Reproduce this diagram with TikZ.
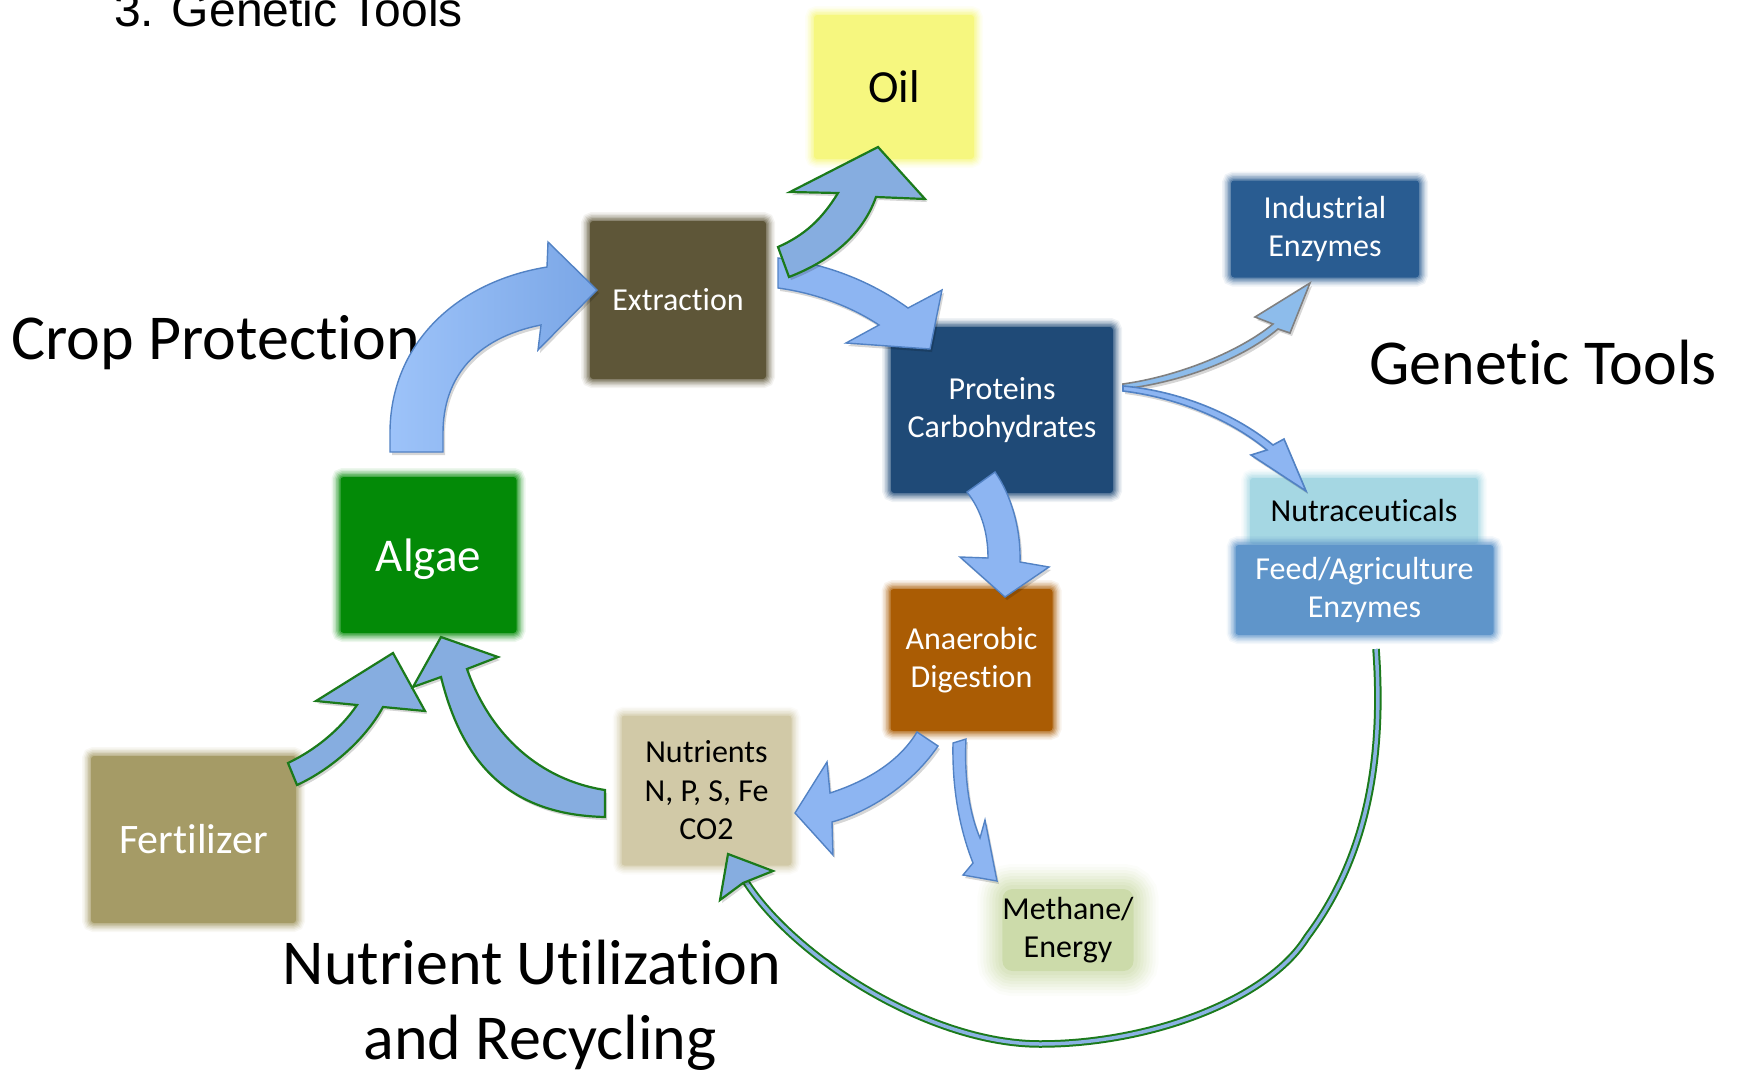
\documentclass[tikz,border=0pt]{standalone}
\usepackage{fontspec}
\setmainfont{Carlito}[Ligatures=NoCommon]
\newfontfamily\arialfont{Liberation Sans}

% box colours
\definecolor{oilc}{HTML}{F6F77F}
\definecolor{extrc}{HTML}{5E5638}
\definecolor{protc}{HTML}{1F4A77}
\definecolor{indc}{HTML}{295C91}
\definecolor{nutrac}{HTML}{A5D7E3}
\definecolor{feedc}{HTML}{5F95CA}
\definecolor{algaec}{HTML}{038A07}
\definecolor{anac}{HTML}{AA5C04}
\definecolor{nutrc}{HTML}{D1C9A7}
\definecolor{fertc}{HTML}{A59B66}
\definecolor{methc}{HTML}{CCDBAA}
% arrow colours
\definecolor{afill}{HTML}{8DB5F2}
\definecolor{afillL}{HTML}{9DC3F9}
\definecolor{afillD}{HTML}{7AA6E6}
\definecolor{aedge}{HTML}{5282C4}
\definecolor{gfill}{HTML}{86ADE0}
\definecolor{gedge}{HTML}{1B7A1B}
\definecolor{tfill}{HTML}{8DBCEB}
\definecolor{tgray}{HTML}{808080}
\definecolor{cfill}{HTML}{8AB2E3}

\tikzset{
  softbox/.style={rectangle, rounded corners=3pt, inner sep=0pt, align=center, fill=#1,
    preaction={draw=#1, line width=18pt, opacity=0.07},
    preaction={draw=#1, line width=15pt, opacity=0.10},
    preaction={draw=#1, line width=12pt, opacity=0.14},
    preaction={draw=#1, line width=9pt, opacity=0.20},
    preaction={draw=#1, line width=6pt, opacity=0.26},
    preaction={draw=#1, line width=3pt, opacity=0.35}},
  hazybox/.style={rectangle, rounded corners=10pt, inner sep=0pt, align=center, fill=#1,
    preaction={draw=#1, line width=50pt, opacity=0.06},
    preaction={draw=#1, line width=44pt, opacity=0.08},
    preaction={draw=#1, line width=38pt, opacity=0.10},
    preaction={draw=#1, line width=32pt, opacity=0.12},
    preaction={draw=#1, line width=26pt, opacity=0.14},
    preaction={draw=#1, line width=20pt, opacity=0.17},
    preaction={draw=#1, line width=14pt, opacity=0.20},
    preaction={draw=#1, line width=8pt, opacity=0.25}},
  boxtext/.style={font=\fontsize{32}{38.5}\selectfont},
  biglabel/.style={font=\fontsize{64}{76}\selectfont, inner sep=0pt},
  shadowed/.style={preaction={fill=black, opacity=0.16,
    transform canvas={shift={(2pt,-3pt)}}}},
  bluearrow/.style={shadowed, fill=afill, draw=aedge, line width=1.4pt, line join=miter},
  bigblue/.style={shadowed, left color=afillL, right color=afillD, draw=aedge,
    line width=1.4pt, line join=miter},
  greenarrow/.style={shadowed, fill=gfill, draw=gedge, line width=2.2pt, line join=miter},
  thingray/.style={shadowed, fill=tfill, draw=tgray, line width=1.6pt, line join=miter},
  thinblue/.style={shadowed, fill=afill, draw=aedge, line width=1.6pt, line join=miter},
}

\begin{document}
\begin{tikzpicture}[x=1pt, y=-1pt]
\useasboundingbox (0,0) rectangle (1741,1071);

% ---------- boxes ----------
\node[softbox=oilc, minimum width=160pt, minimum height=144pt,
      font=\fontsize{46}{55}\selectfont] (oil) at (894,87) {Oil};
\node[softbox=extrc, minimum width=176pt, minimum height=158pt, text=white, boxtext]
      (extr) at (678,300) {Extraction};
\node[softbox=protc, minimum width=222pt, minimum height=166pt, text=white, boxtext]
      (prot) at (1002,410) {Proteins\\Carbohydrates};
\node[softbox=indc, minimum width=188pt, minimum height=97pt, text=white, boxtext]
      (ind) at (1325,229) {Industrial\\Enzymes};
\node[softbox=nutrac, minimum width=228pt, minimum height=66pt, boxtext]
      (nutra) at (1364,511) {Nutraceuticals};
\node[softbox=feedc, minimum width=258pt, minimum height=90pt, text=white, boxtext]
      (feed) at (1364.5,590) {Feed/Agriculture\\Enzymes};
\node[softbox=algaec, minimum width=176pt, minimum height=156pt, text=white,
      text depth=0pt, font=\fontsize{47}{56}\selectfont] (algae) at (428.5,555) {Algae};
\node[softbox=anac, minimum width=162pt, minimum height=142pt, text=white, boxtext]
      (ana) at (971.5,660) {Anaerobic\\Digestion};
\node[softbox=nutrc, minimum width=170pt, minimum height=150pt, boxtext]
      (nutr) at (706.5,790.5) {Nutrients\\N, P, S, Fe\\CO2};
\node[softbox=fertc, minimum width=205pt, minimum height=167pt, text=white,
      font=\fontsize{42}{50}\selectfont] (fert) at (193.5,839.5) {Fertilizer};
\node[hazybox=methc, minimum width=112pt, minimum height=82pt, boxtext]
      (meth) at (1068,930) {Methane/\\Energy};

% ---------- headings ----------
\node[font=\arialfont\fontsize{48}{56}\selectfont, anchor=base west, inner sep=0pt]
      (title) at (114,26) {3. Genetic Tools};
\node[biglabel, anchor=base west] (crop) at (11,359) {Crop Protection};
\node[biglabel, anchor=base west] (gen) at (1369,384) {Genetic Tools};
\node[biglabel, anchor=base] (nu1) at (532,984) {Nutrient Utilization};
\node[biglabel, anchor=base] (nu2) at (540,1059) {and Recycling};

% ---------- block arrows ----------
% Algae -> Extraction
\path[bigblue] (390,452) -- (390,433) .. controls (390,345) and (455,282) .. (547,267)
  -- (548,242) -- (597,290) -- (538,350) -- (541,325)
  .. controls (475,338) and (443,378) .. (443,433) -- (443,452) -- cycle;

% Extraction -> Proteins/Carbohydrates
\path[bluearrow] (778,258) .. controls (830,264) and (875,284) .. (908,308)
  -- (942,290) -- (930,349) -- (846,343) -- (879,325)
  .. controls (850,306) and (815,293) .. (778,288) -- cycle;

% Extraction -> Oil
\path[greenarrow] (778,247) -- (789,277) .. controls (830,261) and (862,236) .. (876,197)
  -- (925,199) -- (878,147) -- (790,192) -- (838,193)
  .. controls (822,219) and (805,235) .. (778,247) -- cycle;

% Proteins/Carbohydrates -> Anaerobic Digestion
\path[bluearrow] (967,492) -- (995,472) .. controls (1011,495) and (1021,528) .. (1020,562)
  -- (1049,567) -- (1005,597) -- (960,557) -- (988,558)
  .. controls (988,532) and (981,510) .. (967,492) -- cycle;

% Anaerobic Digestion -> Nutrients
\path[bluearrow] (917,732) -- (938,746) .. controls (915,780) and (875,810) .. (832,822)
  -- (833,855) -- (795,813) -- (827,762) -- (830,793)
  .. controls (870,780) and (900,760) .. (917,732) -- cycle;

% Anaerobic Digestion -> Methane/Energy
\path[bluearrow] (953,743) -- (966,739) .. controls (964,780) and (970,815) .. (980,838)
  -- (985,820) -- (997,881) -- (963,875) -- (973,863)
  .. controls (960,830) and (952,790) .. (953,743) -- cycle;

% Fertilizer -> Algae
\path[greenarrow] (288,763) -- (297,785) .. controls (330,770) and (365,740) .. (383,707)
  -- (425,711) -- (393,653) -- (316,701) -- (357,705)
  .. controls (340,730) and (315,750) .. (288,763) -- cycle;

% Nutrients -> Algae
\path[greenarrow] (605,790) -- (605,817) .. controls (520,815) and (465,775) .. (441,677)
  -- (413,687) -- (441,637) -- (498,657) -- (467,669)
  .. controls (490,735) and (540,780) .. (605,790) -- cycle;

% Proteins/Carbohydrates -> Industrial Enzymes
\path[thingray] (1123,384) .. controls (1180,376) and (1240,351) .. (1273,324)
  -- (1255,317) -- (1310,283) -- (1290,333) -- (1278,329)
  .. controls (1245,357) and (1185,382) .. (1123,389) -- cycle;

% Proteins/Carbohydrates -> Nutraceuticals
\path[thinblue] (1123,386) .. controls (1180,391) and (1235,414) .. (1273,445)
  -- (1284,439) -- (1306,491) -- (1251,455) -- (1267,450)
  .. controls (1232,421) and (1180,398) .. (1123,391) -- cycle;

% ---------- recycling loop: Feed/Agriculture Enzymes -> Nutrients ----------
\coordinate (loopstart) at (1376,649);
\coordinate (loopend) at (746,882);
\draw[gedge, line width=2pt, double=cfill, double distance=3.5pt]
  (loopstart) .. controls (1384,759) and (1367,857) .. (1307,937)
              .. controls (1268,1000) and (1150,1044) .. (1040,1044)
              .. controls (930,1044) and (795,958) .. (loopend);
\path[greenarrow] (720,900) -- (728,854) -- (773,871) -- (748,881) -- (743,883) -- cycle;

\end{tikzpicture}
\end{document}
